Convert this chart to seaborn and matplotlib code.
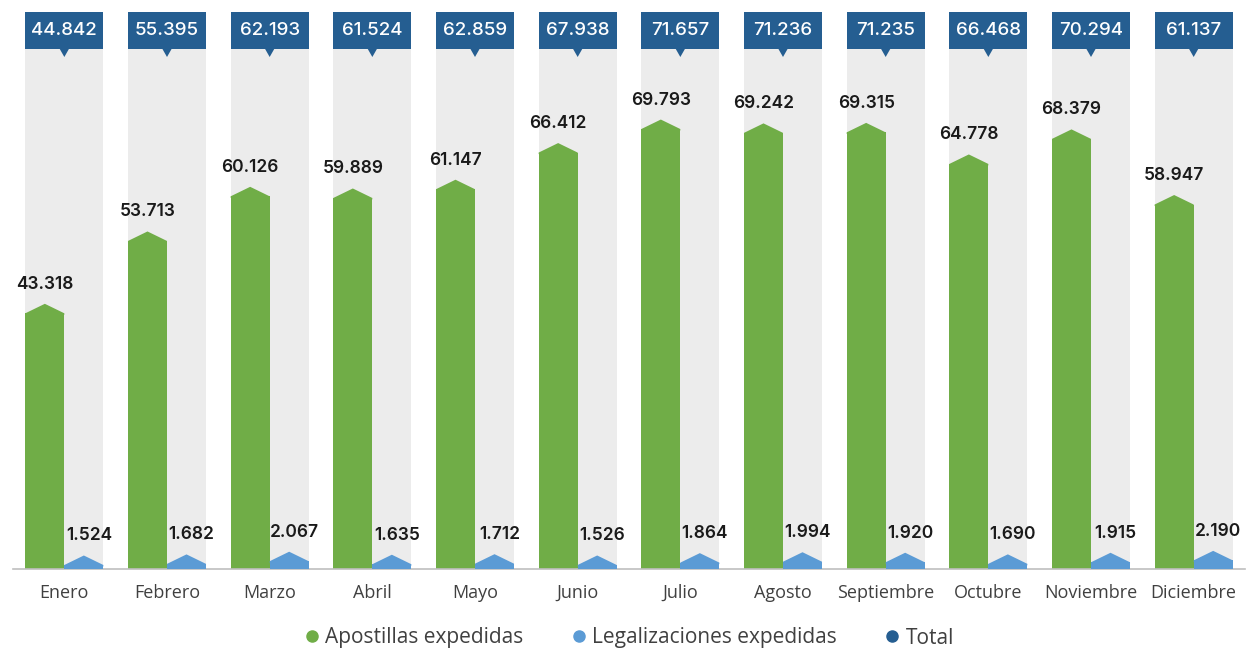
import numpy as np
import pandas as pd
import matplotlib
matplotlib.use("Agg")
import matplotlib.pyplot as plt
from matplotlib.patches import Polygon, Rectangle
from matplotlib.lines import Line2D
import seaborn as sns

# Data
meses = ["Enero", "Febrero", "Marzo", "Abril", "Mayo", "Junio", "Julio",
         "Agosto", "Septiembre", "Octubre", "Noviembre", "Diciembre"]
apostillas = [43318, 53713, 60126, 59889, 61147, 66412, 69793,
              69242, 69315, 64778, 68379, 58947]
legalizaciones = [1524, 1682, 2067, 1635, 1712, 1526, 1864,
                  1994, 1920, 1690, 1915, 2190]
totales = [44842, 55395, 62193, 61524, 62859, 67938, 71657,
           71236, 71235, 66468, 70294, 61137]

c_green = "#70ad47"
c_blue = "#5b9bd5"
c_dark = "#255e91"
c_gray = "#ececec"
c_text = "#404040"


def fmt(v):
    return f"{v:,}".replace(",", ".")


sns.set_style("white")
plt.rcParams["font.family"] = ["Open Sans", "DejaVu Sans"]
num_font = ["Inter", "DejaVu Sans"]

fig = plt.figure(figsize=(12.46, 6.49), dpi=100)
ax_h_px = 520
ax = fig.add_axes([13 / 1246, 1 - 569 / 649, 1232 / 1246, ax_h_px / 649])
ax2 = ax.twinx()

span = 74713
lo_ap, lo_le = 6580, 948
ax.set_ylim(lo_ap, lo_ap + span)
ax2.set_ylim(lo_le, lo_le + span)
unit = span / ax_h_px  # data units per pixel

bar_w = 0.76
half = bar_w / 2

# background (total) bars reach the top of the plot area
df_bg = pd.DataFrame({"mes": meses, "v": [lo_ap + span] * len(meses)})
sns.barplot(data=df_bg, x="mes", y="v", color=c_gray, width=bar_w,
            saturation=1, ax=ax, errorbar=None, linewidth=0, zorder=1)
n_bg = len(ax.patches)
for p in ax.patches:
    p.set_y(lo_ap)
    p.set_height(span)

df_ap = pd.DataFrame({"mes": meses, "v": apostillas})
sns.barplot(data=df_ap, x="mes", y="v", color=c_green, width=half,
            saturation=1, ax=ax, errorbar=None, linewidth=0, zorder=2)
df_le = pd.DataFrame({"mes": meses, "v": legalizaciones})
sns.barplot(data=df_le, x="mes", y="v", color=c_blue, width=half,
            saturation=1, ax=ax2, errorbar=None, linewidth=0, zorder=2)

tip = 9.5 * unit


def pointed(axis, patches, shift, color, values, lo, dx_lab):
    for p, v in zip(patches, values):
        p.set_x(p.get_x() + shift)
        p.set_y(lo)
        p.set_height(v - lo)
        x0, w = p.get_x(), p.get_width()
        axis.add_patch(Polygon([(x0, v - 1.5 * unit), (x0, v),
                                (x0 + w / 2, v + tip), (x0 + w, v),
                                (x0 + w, v - 1.5 * unit)],
                               closed=True, color=color, lw=0, zorder=2))
        axis.annotate(fmt(v), (x0 + w / 2, v + tip), xytext=(dx_lab, 11),
                      textcoords="offset pixels", ha="center", va="bottom",
                      fontsize=12.5, fontweight="semibold", color="#1a1a1a",
                      family=num_font)


pointed(ax, ax.patches[n_bg:], -half / 2, c_green, apostillas, lo_ap, 0)
pointed(ax2, ax2.patches, half / 2, c_blue, legalizaciones, lo_le, 5)

# total boxes above each column
top = lo_ap + span
box_h = 36.6 * unit
for i, t in enumerate(totales):
    ax.add_patch(Rectangle((i - half, top), bar_w, box_h, color=c_dark,
                           clip_on=False, lw=0, zorder=3))
    ax.add_patch(Polygon([(i - 0.05, top + unit), (i + 0.05, top + unit),
                          (i, top - 8 * unit)],
                         closed=True, color=c_dark, clip_on=False, lw=0, zorder=3))
    ax.text(i, top + box_h / 2, fmt(t), ha="center", va="center", color="white",
            fontsize=13.5, fontweight="medium", family=num_font,
            clip_on=False, zorder=4)

ax.set_xlim(-0.5, len(meses) - 0.5)
for a in (ax, ax2):
    a.set_xlabel("")
    a.set_ylabel("")
    a.set_yticks([])
    for s in ("left", "right", "top", "bottom"):
        a.spines[s].set_visible(False)
ax.spines["bottom"].set_visible(True)
ax.spines["bottom"].set_color("#bfbfbf")
ax.spines["bottom"].set_linewidth(1.2)
ax.spines["bottom"].set_zorder(5)
ax.tick_params(axis="x", length=0, pad=11, labelsize=13, labelcolor=c_text)
ax2.tick_params(axis="x", length=0, labelbottom=False)
ax.set_xticks(range(len(meses)))
ax.set_xticklabels(meses)

handles = [Line2D([], [], marker="o", ls="", color=c, markersize=8)
           for c in (c_green, c_blue, c_dark)]
fig.legend(handles, ["Apostillas expedidas", "Legalizaciones expedidas", "Total"],
           loc="center", bbox_to_anchor=(0.505, 1 - 638 / 649), ncol=3,
           frameon=False, fontsize=15, labelcolor=c_text, handlelength=0.7,
           handletextpad=0.3, columnspacing=2.3)

fig.savefig("out.png", dpi=100)
